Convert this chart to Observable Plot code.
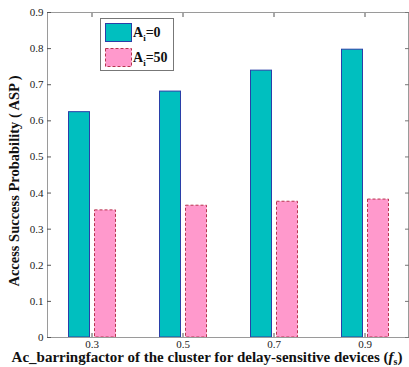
<!DOCTYPE html>
<html><head><meta charset="utf-8">
<script src="https://cdn.jsdelivr.net/npm/d3@7"></script>
<script src="https://cdn.jsdelivr.net/npm/@observablehq/plot@0.6"></script>
<style>body{margin:0;background:#fff} svg{display:block}</style>
</head><body><div id="chart"></div>
<script>
const categories = ["0.3", "0.5", "0.7", "0.9"];
const seriesNames = ["0", "50"];
const aspA0 = [0.624, 0.681, 0.739, 0.797];
const aspA50 = [0.352, 0.365, 0.376, 0.382];
const yTicks = [0, 0.1, 0.2, 0.3, 0.4, 0.5, 0.6, 0.7, 0.8, 0.9];

const rows0 = categories.map((c, i) => ({c, v: aspA0[i]}));
const rows50 = categories.map((c, i) => ({c, v: aspA50[i]}));
const serif = "'Liberation Serif', 'Times New Roman', serif";
const cyan = "#00BFBF", cyanStroke = "#2a3fa8";
const pink = "#FF99CC", pinkStroke = "#b8334f";

const plot = Plot.plot({
  width: 409, height: 367,
  marginLeft: 47, marginRight: 1, marginTop: 12, marginBottom: 30,
  style: {fontFamily: serif, fontSize: "11px", background: "#fff", color: "#222", overflow: "visible"},
  x: {domain: categories, range: [45.5, 409.5], padding: 0, label: null},
  y: {domain: [0, 0.9], label: null},
  marks: [
    Plot.barY(rows0, {x: "c", y: "v", fill: cyan, stroke: cyanStroke, strokeWidth: 1, insetLeft: 22.5, insetRight: 47.5}),
    Plot.barY(rows50, {x: "c", y: "v", fill: pink, stroke: pinkStroke, strokeWidth: 1, strokeDasharray: "3,2", insetLeft: 48.5, insetRight: 21.5}),
    Plot.frame({stroke: "#9a9a9a"}),
    Plot.axisY({ticks: yTicks, tickSize: -4, tickPadding: 8, stroke: "#555", label: null,
      tickFormat: d => d === 0 ? "0" : d3.format(".1f")(d)}),
    Plot.axisY({anchor: "right", ticks: yTicks, tickSize: -4, stroke: "#777", label: null, tickFormat: () => ""}),
    Plot.axisX({tickSize: -4, tickPadding: 7, stroke: "#555", label: null}),
    Plot.axisX({anchor: "top", tickSize: -4, stroke: "#555", label: null, tickFormat: () => ""})
  ]
});

const svg = d3.select(plot);
// Y axis label
svg.append("text")
  .attr("transform", "translate(16,181) rotate(-90)")
  .attr("text-anchor", "middle").attr("dominant-baseline", "middle")
  .style("font", `bold 14.5px ${serif}`).attr("fill", "#111")
  .text("Access Success Probability ( ASP )");
// X axis label
const xl = svg.append("text")
  .attr("x", 207).attr("y", 362).attr("text-anchor", "middle")
  .style("font", `bold 15px ${serif}`).attr("fill", "#111");
xl.append("tspan").text("Ac_barringfactor of the cluster for delay-sensitive devices (");
xl.append("tspan").style("font-style", "italic").text("f");
xl.append("tspan").attr("dy", 3).style("font-size", "10px").text("s");
xl.append("tspan").attr("dy", -3).text(")");

// Legend
const lg = svg.append("g").attr("text-anchor", "start");
lg.append("rect").attr("x", 100.5).attr("y", 18.5).attr("width", 73).attr("height", 52)
  .attr("fill", "#fff").attr("stroke", "#777");
const entries = [
  {name: seriesNames[0], fill: cyan, stroke: cyanStroke, dash: null, y: 23},
  {name: seriesNames[1], fill: pink, stroke: pinkStroke, dash: "3,2", y: 48}
];
entries.forEach(e => {
  lg.append("rect").attr("x", 105.5).attr("y", e.y + 0.5).attr("width", 26).attr("height", 18)
    .attr("fill", e.fill).attr("stroke", e.stroke).attr("stroke-dasharray", e.dash);
  const t = lg.append("text").attr("x", 133).attr("y", e.y + 14).attr("text-anchor", "start")
    .style("font", `bold 14px ${serif}`).attr("fill", "#111");
  t.append("tspan").text("A");
  t.append("tspan").attr("dy", 4).style("font-size", "9px").text("i");
  t.append("tspan").attr("dy", -4).text("=" + e.name);
});

document.getElementById("chart").appendChild(plot);
</script>
</body></html>
